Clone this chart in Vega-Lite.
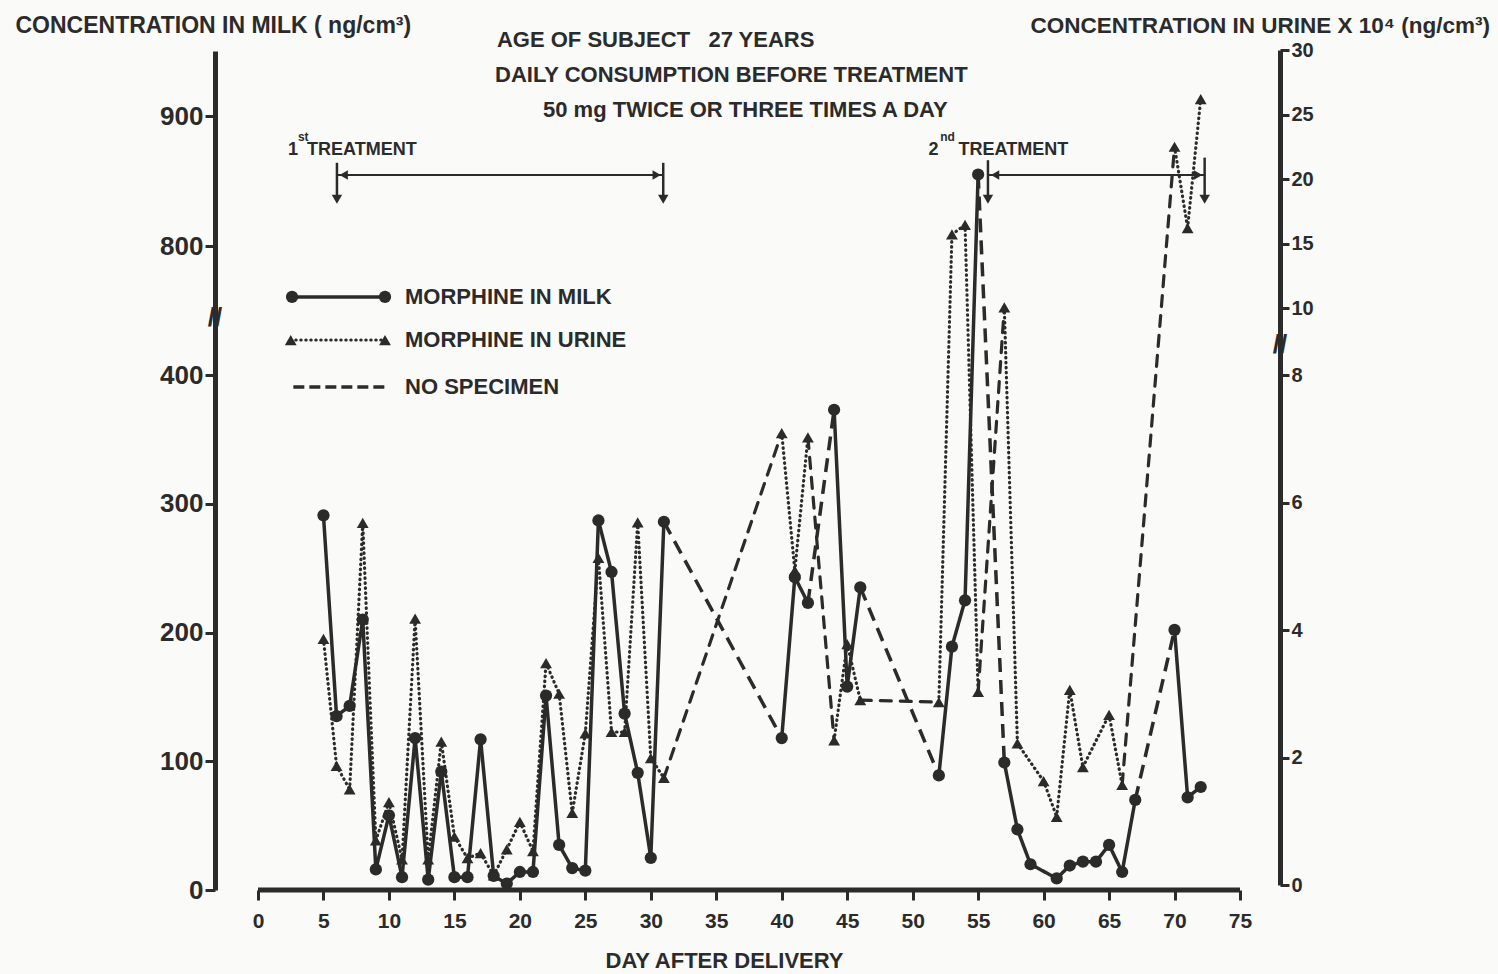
{
  "$schema": "https://vega.github.io/schema/vega-lite/v6.json",
  "width": 1065,
  "height": 840,
  "autosize": {"type": "none"},
  "padding": {"left": 215, "top": 50, "right": 218, "bottom": 84},
  "background": "#fafaf8",
  "config": {
    "view": {"stroke": null},
    "font": "Liberation Sans",
    "text": {"font": "Liberation Sans", "fontWeight": "bold", "color": "#2b2b2b"}
  },
  "datasets": {
    "milk": [
      {"day": 5, "milk": 291}, {"day": 6, "milk": 135}, {"day": 7, "milk": 143}, {"day": 8, "milk": 210},
      {"day": 9, "milk": 16}, {"day": 10, "milk": 58}, {"day": 11, "milk": 10}, {"day": 12, "milk": 118},
      {"day": 13, "milk": 8}, {"day": 14, "milk": 92}, {"day": 15, "milk": 10}, {"day": 16, "milk": 10},
      {"day": 17, "milk": 117}, {"day": 18, "milk": 11}, {"day": 19, "milk": 5}, {"day": 20, "milk": 14},
      {"day": 21, "milk": 14}, {"day": 22, "milk": 151}, {"day": 23, "milk": 35}, {"day": 24, "milk": 17},
      {"day": 25, "milk": 15}, {"day": 26, "milk": 287}, {"day": 27, "milk": 247}, {"day": 28, "milk": 137},
      {"day": 29, "milk": 91}, {"day": 30, "milk": 25}, {"day": 31, "milk": 286, "no_specimen_after": true},
      {"day": 40, "milk": 118}, {"day": 41, "milk": 243}, {"day": 42, "milk": 223, "no_specimen_after": true},
      {"day": 44, "milk": 373}, {"day": 45, "milk": 158}, {"day": 46, "milk": 235, "no_specimen_after": true},
      {"day": 52, "milk": 89}, {"day": 53, "milk": 189}, {"day": 54, "milk": 225}, {"day": 55, "milk": 855, "no_specimen_after": true},
      {"day": 57, "milk": 99}, {"day": 58, "milk": 47}, {"day": 59, "milk": 20}, {"day": 61, "milk": 9},
      {"day": 62, "milk": 19}, {"day": 63, "milk": 22}, {"day": 64, "milk": 22}, {"day": 65, "milk": 35},
      {"day": 66, "milk": 14}, {"day": 67, "milk": 70, "no_specimen_after": true},
      {"day": 70, "milk": 202}, {"day": 71, "milk": 72}, {"day": 72, "milk": 80}
    ],
    "urine": [
      {"day": 5, "urine": 3.86}, {"day": 6, "urine": 1.87}, {"day": 7, "urine": 1.5}, {"day": 8, "urine": 5.68},
      {"day": 9, "urine": 0.7}, {"day": 10, "urine": 1.3}, {"day": 11, "urine": 0.4}, {"day": 12, "urine": 4.18},
      {"day": 13, "urine": 0.4}, {"day": 14, "urine": 2.25}, {"day": 15, "urine": 0.76}, {"day": 16, "urine": 0.42},
      {"day": 17, "urine": 0.5}, {"day": 18, "urine": 0.15}, {"day": 19, "urine": 0.56}, {"day": 20, "urine": 0.99},
      {"day": 21, "urine": 0.53}, {"day": 22, "urine": 3.48}, {"day": 23, "urine": 3.0}, {"day": 24, "urine": 1.13},
      {"day": 25, "urine": 2.38}, {"day": 26, "urine": 5.13}, {"day": 27, "urine": 2.4}, {"day": 28, "urine": 2.4},
      {"day": 29, "urine": 5.69}, {"day": 30, "urine": 1.99}, {"day": 31, "urine": 1.68, "no_specimen_after": true},
      {"day": 40, "urine": 7.09}, {"day": 41, "urine": 4.93}, {"day": 42, "urine": 7.02, "no_specimen_after": true},
      {"day": 44, "urine": 2.27}, {"day": 45, "urine": 3.78}, {"day": 46, "urine": 2.9, "no_specimen_after": true},
      {"day": 52, "urine": 2.87}, {"day": 53, "urine": 15.7}, {"day": 54, "urine": 16.45}, {"day": 55, "urine": 3.03, "no_specimen_after": true},
      {"day": 57, "urine": 10.05}, {"day": 58, "urine": 2.22}, {"day": 60, "urine": 1.63}, {"day": 61, "urine": 1.07},
      {"day": 62, "urine": 3.06}, {"day": 63, "urine": 1.85}, {"day": 65, "urine": 2.67}, {"day": 66, "urine": 1.57, "no_specimen_after": true},
      {"day": 70, "urine": 22.5}, {"day": 71, "urine": 16.2}, {"day": 72, "urine": 26.2}
    ]
  },
  "layer": [
    {
      "layer": [
        {
          "data": {"values": [{"day": 0, "day_end": 75, "milk": 0}]},
          "mark": {"type": "rule", "strokeWidth": 5, "color": "#2b2b2b"},
          "encoding": {
            "x": {"field": "day", "type": "quantitative", "scale": {"domain": [-3.284, 78.055], "nice": false, "zero": false},
              "axis": {"orient": "bottom", "values": [0, 5, 10, 15, 20, 25, 30, 35, 40, 45, 50, 55, 60, 65, 70, 75], "domain": false, "grid": false,
                "ticks": true, "tickSize": 10, "tickWidth": 3, "tickColor": "#2b2b2b",
                "labelFont": "Liberation Sans", "labelFontSize": 21, "labelFontWeight": "bold", "labelColor": "#2b2b2b", "labelPadding": 10,
                "title": "DAY AFTER DELIVERY", "titleFont": "Liberation Sans", "titleFontSize": 22, "titleFontWeight": "bold", "titleColor": "#2b2b2b",
                "titleX": 509, "titleY": 70, "titleAlign": "center", "titleBaseline": "middle"}},
            "x2": {"field": "day_end"},
            "y": {"field": "milk", "type": "quantitative", "scale": {"domain": [0, 400, 800, 950], "range": [840, 325, 196, 1], "nice": false, "zero": false},
              "axis": {"orient": "left", "values": [0, 100, 200, 300, 400, 800, 900], "format": "d", "grid": false,
                "domain": true, "domainWidth": 5, "domainColor": "#2b2b2b",
                "ticks": true, "tickSize": 10, "tickWidth": 3, "tickColor": "#2b2b2b",
                "labelFont": "Liberation Sans", "labelFontSize": 26, "labelFontWeight": "bold", "labelColor": "#2b2b2b", "labelPadding": 2,
                "title": "CONCENTRATION IN MILK ( ng/cm³)", "titleFont": "Liberation Sans", "titleFontSize": 23, "titleFontWeight": "bold", "titleColor": "#2b2b2b",
                "titleAngle": 0, "titleX": -200, "titleY": -25, "titleAlign": "left", "titleBaseline": "middle"}}
          }
        },
        {
          "data": {"name": "milk"},
          "transform": [
            {"window": [{"op": "lead", "field": "day", "as": "next_day"}, {"op": "lead", "field": "milk", "as": "next_milk"}], "sort": [{"field": "day", "order": "ascending"}]},
            {"filter": "datum.next_day != null"}
          ],
          "mark": {"type": "rule", "strokeWidth": 3.5, "color": "#2b2b2b"},
          "encoding": {
            "x": {"field": "day", "type": "quantitative", "scale": {"domain": [-3.284, 78.055], "nice": false, "zero": false}},
            "x2": {"field": "next_day"},
            "y": {"field": "milk", "type": "quantitative", "scale": {"domain": [0, 400, 800, 950], "range": [840, 325, 196, 1], "nice": false, "zero": false}},
            "y2": {"field": "next_milk"},
            "strokeDash": {"condition": {"test": "datum.no_specimen_after === true", "value": [14, 8]}, "value": [1, 0]}
          }
        },
        {
          "data": {"name": "milk"},
          "mark": {"type": "point", "shape": "circle", "filled": true, "size": 150, "opacity": 1, "color": "#2b2b2b"},
          "encoding": {
            "x": {"field": "day", "type": "quantitative", "scale": {"domain": [-3.284, 78.055], "nice": false, "zero": false}},
            "y": {"field": "milk", "type": "quantitative", "scale": {"domain": [0, 400, 800, 950], "range": [840, 325, 196, 1], "nice": false, "zero": false}}
          }
        },
        {
          "data": {"values": [{"day": 6.03, "day_end": 30.95, "milk": 854.6}, {"day": 55.75, "day_end": 72.3, "milk": 854.6}]},
          "mark": {"type": "rule", "strokeWidth": 2, "color": "#2b2b2b"},
          "encoding": {
            "x": {"field": "day", "type": "quantitative", "scale": {"domain": [-3.284, 78.055], "nice": false, "zero": false}},
            "x2": {"field": "day_end"},
            "y": {"field": "milk", "type": "quantitative", "scale": {"domain": [0, 400, 800, 950], "range": [840, 325, 196, 1], "nice": false, "zero": false}}
          }
        },
        {
          "data": {"values": [{"day": 6.03, "milk": 864, "milk_end": 838}, {"day": 30.95, "milk": 864, "milk_end": 838}, {"day": 55.75, "milk": 866, "milk_end": 838}, {"day": 72.3, "milk": 868, "milk_end": 838}]},
          "mark": {"type": "rule", "strokeWidth": 2.5, "color": "#2b2b2b"},
          "encoding": {
            "x": {"field": "day", "type": "quantitative", "scale": {"domain": [-3.284, 78.055], "nice": false, "zero": false}},
            "y": {"field": "milk", "type": "quantitative", "scale": {"domain": [0, 400, 800, 950], "range": [840, 325, 196, 1], "nice": false, "zero": false}},
            "y2": {"field": "milk_end"}
          }
        },
        {
          "data": {"values": [{"day": 6.03, "milk": 836}, {"day": 30.95, "milk": 836}, {"day": 55.75, "milk": 836}, {"day": 72.3, "milk": 836}]},
          "mark": {"type": "point", "shape": "triangle-down", "filled": true, "size": 110, "opacity": 1, "color": "#2b2b2b"},
          "encoding": {
            "x": {"field": "day", "type": "quantitative", "scale": {"domain": [-3.284, 78.055], "nice": false, "zero": false}},
            "y": {"field": "milk", "type": "quantitative", "scale": {"domain": [0, 400, 800, 950], "range": [840, 325, 196, 1], "nice": false, "zero": false}}
          }
        },
        {
          "data": {"values": [{"day": 6.55, "milk": 854.6}, {"day": 56.3, "milk": 854.6}]},
          "mark": {"type": "point", "shape": "triangle-left", "filled": true, "size": 90, "opacity": 1, "color": "#2b2b2b"},
          "encoding": {
            "x": {"field": "day", "type": "quantitative", "scale": {"domain": [-3.284, 78.055], "nice": false, "zero": false}},
            "y": {"field": "milk", "type": "quantitative", "scale": {"domain": [0, 400, 800, 950], "range": [840, 325, 196, 1], "nice": false, "zero": false}}
          }
        },
        {
          "data": {"values": [{"day": 30.45, "milk": 854.6}, {"day": 71.8, "milk": 854.6}]},
          "mark": {"type": "point", "shape": "triangle-right", "filled": true, "size": 90, "opacity": 1, "color": "#2b2b2b"},
          "encoding": {
            "x": {"field": "day", "type": "quantitative", "scale": {"domain": [-3.284, 78.055], "nice": false, "zero": false}},
            "y": {"field": "milk", "type": "quantitative", "scale": {"domain": [0, 400, 800, 950], "range": [840, 325, 196, 1], "nice": false, "zero": false}}
          }
        },
        {
          "data": {"values": [
            {"text": "AGE OF SUBJECT\u00a0\u00a0 27 YEARS", "day": 18.25, "milk": 958.5},
            {"text": "DAILY CONSUMPTION BEFORE TREATMENT", "day": 18.1, "milk": 931.5},
            {"text": "50 mg TWICE OR THREE TIMES A DAY", "day": 21.77, "milk": 904.6},
            {"text": "MORPHINE IN MILK", "day": 11.23, "milk": 642},
            {"text": "MORPHINE IN URINE", "day": 11.23, "milk": 508.5},
            {"text": "NO SPECIMEN", "day": 11.23, "milk": 390.7}
          ]},
          "mark": {"type": "text", "align": "left", "baseline": "middle", "fontSize": 22, "fontWeight": "bold", "font": "Liberation Sans", "color": "#2b2b2b"},
          "encoding": {
            "x": {"field": "day", "type": "quantitative", "scale": {"domain": [-3.284, 78.055], "nice": false, "zero": false}},
            "y": {"field": "milk", "type": "quantitative", "scale": {"domain": [0, 400, 800, 950], "range": [840, 325, 196, 1], "nice": false, "zero": false}},
            "text": {"field": "text"}
          }
        },
        {
          "data": {"values": [
            {"text": "1", "day": 2.3, "milk": 873.8},
            {"text": "TREATMENT", "day": 3.75, "milk": 873.8},
            {"text": "2", "day": 51.2, "milk": 873.8},
            {"text": "TREATMENT", "day": 53.5, "milk": 873.8}
          ]},
          "mark": {"type": "text", "align": "left", "baseline": "middle", "fontSize": 18, "fontWeight": "bold", "font": "Liberation Sans", "color": "#2b2b2b"},
          "encoding": {
            "x": {"field": "day", "type": "quantitative", "scale": {"domain": [-3.284, 78.055], "nice": false, "zero": false}},
            "y": {"field": "milk", "type": "quantitative", "scale": {"domain": [0, 400, 800, 950], "range": [840, 325, 196, 1], "nice": false, "zero": false}},
            "text": {"field": "text"}
          }
        },
        {
          "data": {"values": [
            {"text": "st", "day": 3.05, "milk": 884},
            {"text": "nd", "day": 52.1, "milk": 884}
          ]},
          "mark": {"type": "text", "align": "left", "baseline": "middle", "fontSize": 12, "fontWeight": "bold", "font": "Liberation Sans", "color": "#2b2b2b"},
          "encoding": {
            "x": {"field": "day", "type": "quantitative", "scale": {"domain": [-3.284, 78.055], "nice": false, "zero": false}},
            "y": {"field": "milk", "type": "quantitative", "scale": {"domain": [0, 400, 800, 950], "range": [840, 325, 196, 1], "nice": false, "zero": false}},
            "text": {"field": "text"}
          }
        },
        {
          "data": {"values": [{"day": 2.6, "day_end": 9.7, "milk": 642}]},
          "mark": {"type": "rule", "strokeWidth": 3.5, "color": "#2b2b2b"},
          "encoding": {
            "x": {"field": "day", "type": "quantitative", "scale": {"domain": [-3.284, 78.055], "nice": false, "zero": false}},
            "x2": {"field": "day_end"},
            "y": {"field": "milk", "type": "quantitative", "scale": {"domain": [0, 400, 800, 950], "range": [840, 325, 196, 1], "nice": false, "zero": false}}
          }
        },
        {
          "data": {"values": [{"day": 2.5, "day_end": 9.7, "milk": 508.5}]},
          "mark": {"type": "rule", "strokeWidth": 3, "strokeCap": "round", "strokeDash": [0.5, 4.5], "color": "#2b2b2b"},
          "encoding": {
            "x": {"field": "day", "type": "quantitative", "scale": {"domain": [-3.284, 78.055], "nice": false, "zero": false}},
            "x2": {"field": "day_end"},
            "y": {"field": "milk", "type": "quantitative", "scale": {"domain": [0, 400, 800, 950], "range": [840, 325, 196, 1], "nice": false, "zero": false}}
          }
        },
        {
          "data": {"values": [{"day": 2.7, "day_end": 9.7, "milk": 390.7}]},
          "mark": {"type": "rule", "strokeWidth": 3.5, "strokeDash": [11, 5], "color": "#2b2b2b"},
          "encoding": {
            "x": {"field": "day", "type": "quantitative", "scale": {"domain": [-3.284, 78.055], "nice": false, "zero": false}},
            "x2": {"field": "day_end"},
            "y": {"field": "milk", "type": "quantitative", "scale": {"domain": [0, 400, 800, 950], "range": [840, 325, 196, 1], "nice": false, "zero": false}}
          }
        },
        {
          "data": {"values": [{"day": 2.6, "milk": 642}, {"day": 9.7, "milk": 642}]},
          "mark": {"type": "point", "shape": "circle", "filled": true, "size": 150, "opacity": 1, "color": "#2b2b2b"},
          "encoding": {
            "x": {"field": "day", "type": "quantitative", "scale": {"domain": [-3.284, 78.055], "nice": false, "zero": false}},
            "y": {"field": "milk", "type": "quantitative", "scale": {"domain": [0, 400, 800, 950], "range": [840, 325, 196, 1], "nice": false, "zero": false}}
          }
        },
        {
          "data": {"values": [{"day": 2.5, "milk": 508.5}, {"day": 9.7, "milk": 508.5}]},
          "mark": {"type": "point", "shape": "triangle-up", "filled": true, "size": 140, "opacity": 1, "color": "#2b2b2b"},
          "encoding": {
            "x": {"field": "day", "type": "quantitative", "scale": {"domain": [-3.284, 78.055], "nice": false, "zero": false}},
            "y": {"field": "milk", "type": "quantitative", "scale": {"domain": [0, 400, 800, 950], "range": [840, 325, 196, 1], "nice": false, "zero": false}}
          }
        },
        {
          "data": {"values": [{"text": "//", "day": -3.284, "milk": 576}]},
          "mark": {"type": "text", "align": "center", "baseline": "middle", "fontSize": 26, "fontWeight": "bold", "font": "Liberation Sans", "color": "#2b2b2b"},
          "encoding": {
            "x": {"field": "day", "type": "quantitative", "scale": {"domain": [-3.284, 78.055], "nice": false, "zero": false}},
            "y": {"field": "milk", "type": "quantitative", "scale": {"domain": [0, 400, 800, 950], "range": [840, 325, 196, 1], "nice": false, "zero": false}},
            "text": {"field": "text"}
          }
        }
      ]
    },
    {
      "layer": [
        {
          "data": {"name": "urine"},
          "transform": [
            {"window": [{"op": "lead", "field": "day", "as": "next_day"}, {"op": "lead", "field": "urine", "as": "next_urine"}], "sort": [{"field": "day", "order": "ascending"}]},
            {"filter": "datum.next_day != null"}
          ],
          "mark": {"type": "rule", "strokeWidth": 3.2, "strokeCap": "round", "color": "#2b2b2b"},
          "encoding": {
            "x": {"field": "day", "type": "quantitative", "scale": {"domain": [-3.284, 78.055], "nice": false, "zero": false}},
            "x2": {"field": "next_day"},
            "y": {"field": "urine", "type": "quantitative", "scale": {"domain": [0, 8, 10, 30], "range": [835, 325, 258, 0], "nice": false, "zero": false},
              "axis": {"orient": "right", "values": [0, 2, 4, 6, 8, 10, 15, 20, 25, 30], "format": "d", "grid": false,
                "domain": true, "domainWidth": 5, "domainColor": "#2b2b2b",
                "ticks": true, "tickSize": 9, "tickWidth": 3, "tickColor": "#2b2b2b",
                "labelFont": "Liberation Sans", "labelFontSize": 20, "labelFontWeight": "bold", "labelColor": "#2b2b2b", "labelPadding": 2,
                "title": "CONCENTRATION IN URINE X 10⁴ (ng/cm³)", "titleFont": "Liberation Sans", "titleFontSize": 22.5, "titleFontWeight": "bold", "titleColor": "#2b2b2b",
                "titleAngle": 0, "titleX": -250, "titleY": -25, "titleAlign": "left", "titleBaseline": "middle"}},
            "y2": {"field": "next_urine"},
            "strokeDash": {"condition": {"test": "datum.no_specimen_after === true", "value": [11, 9]}, "value": [0.5, 4.5]}
          }
        },
        {
          "data": {"name": "urine"},
          "mark": {"type": "point", "shape": "triangle-up", "filled": true, "size": 140, "opacity": 1, "color": "#2b2b2b"},
          "encoding": {
            "x": {"field": "day", "type": "quantitative", "scale": {"domain": [-3.284, 78.055], "nice": false, "zero": false}},
            "y": {"field": "urine", "type": "quantitative", "scale": {"domain": [0, 8, 10, 30], "range": [835, 325, 258, 0], "nice": false, "zero": false}}
          }
        },
        {
          "data": {"values": [{"text": "//", "day": 78.055, "urine": 8.9}]},
          "mark": {"type": "text", "align": "center", "baseline": "middle", "fontSize": 26, "fontWeight": "bold", "font": "Liberation Sans", "color": "#2b2b2b"},
          "encoding": {
            "x": {"field": "day", "type": "quantitative", "scale": {"domain": [-3.284, 78.055], "nice": false, "zero": false}},
            "y": {"field": "urine", "type": "quantitative", "scale": {"domain": [0, 8, 10, 30], "range": [835, 325, 258, 0], "nice": false, "zero": false}},
            "text": {"field": "text"}
          }
        }
      ]
    }
  ],
  "resolve": {"scale": {"y": "independent"}, "axis": {"y": "independent"}}
}
